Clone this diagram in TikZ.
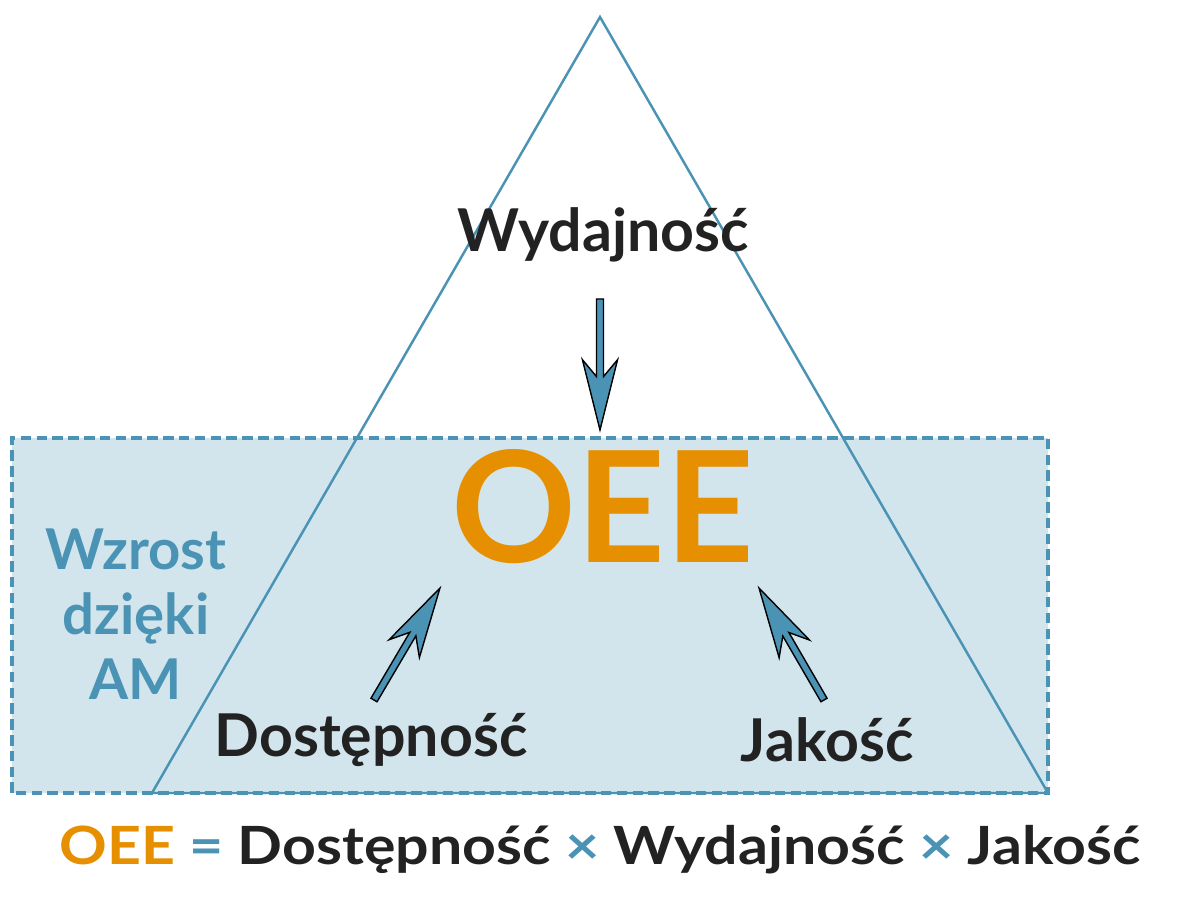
\documentclass[tikz,border=0pt]{standalone}
\usepackage{fontspec}
\setmainfont{Lato}
\usepackage{tikz}
\usetikzlibrary{calc,positioning}
\definecolor{amblue}{HTML}{4A93B4}
\definecolor{amfill}{HTML}{D3E5EC}
\definecolor{oeeorange}{HTML}{E68F00}
\definecolor{txtdark}{HTML}{222222}

% fat outlined arrow between two named points
\newcommand{\fatarrow}[2]{%
  \draw[fatarr] let \p1=($(#2)-(#1)$), \n1={atan2(\y1,\x1)}, \n2={veclen(\x1,\y1)} in
    [shift={(#1)}, rotate=\n1]
    (0pt,-1pt) -- ({\n2*1pt-15.2pt},-1pt) -- ({\n2*1pt-20pt},-5pt) -- ({\n2*1pt},0pt)
    -- ({\n2*1pt-20pt},5pt) -- ({\n2*1pt-15.2pt},1pt) -- (0pt,1pt) -- cycle;}

\begin{document}
\begin{tikzpicture}[
    font=\bfseries,
    every node/.style={text=txtdark, inner sep=0pt},
    fatarr/.style={draw=black, line width=0.4pt, fill=amblue, line join=miter},
    zone/.style={draw=amblue, fill=amfill, line width=0.9pt, dash pattern=on 3pt off 1.5pt},
    pyramid/.style={draw=amblue, line width=0.7pt, line join=miter},
    lbl/.style={font=\fontsize{16.8}{20}\selectfont\bfseries},
    side/.style={font=\fontsize{16}{18.5}\selectfont\bfseries, text=amblue, align=center}
]
    \useasboundingbox (0,0) rectangle (12,9);

    % Zone and triangle
    \coordinate (apex) at (6.00,8.83);
    \coordinate (bl) at (1.52,1.07);
    \coordinate (br) at (10.48,1.07);
    \draw[zone] (0.12,1.07) rectangle (10.48,4.62);
    \draw[pyramid] (apex) -- (bl) -- (br) -- cycle;

    % Nodes
    \node[lbl] (wyd) at (6.03,6.65) {Wydajność};
    \node[font=\fontsize{44}{48}\selectfont\bfseries, text=oeeorange] (oee) at (6.03,3.93) {OEE};
    \node[lbl] (dost) at (3.71,1.60) {Dostępność};
    \node[lbl] (jak) at (8.27,1.60) {Jakość};
    \node[side] (am) at (1.36,2.86) {Wzrost\\dzięki\\AM};
    \node[font=\fontsize{15}{18}\selectfont\bfseries] (formula) at (6.00,0.50)
        {\scalebox{1.12}[1]{\textcolor{oeeorange}{OEE} \textcolor{amblue}{=} Dostępność \textcolor{amblue}{×} Wydajność \textcolor{amblue}{×} Jakość}};

    % Arrows
    \coordinate (wtail) at (6.00,6.01);
    \coordinate (wtip) at (6.00,4.70);
    \coordinate (dtail) at (3.74,2.00);
    \coordinate (dtip) at (4.40,3.12);
    \coordinate (jtail) at (8.24,2.00);
    \coordinate (jtip) at (7.59,3.12);
    \fatarrow{wtail}{wtip}
    \fatarrow{dtail}{dtip}
    \fatarrow{jtail}{jtip}
\end{tikzpicture}
\end{document}
